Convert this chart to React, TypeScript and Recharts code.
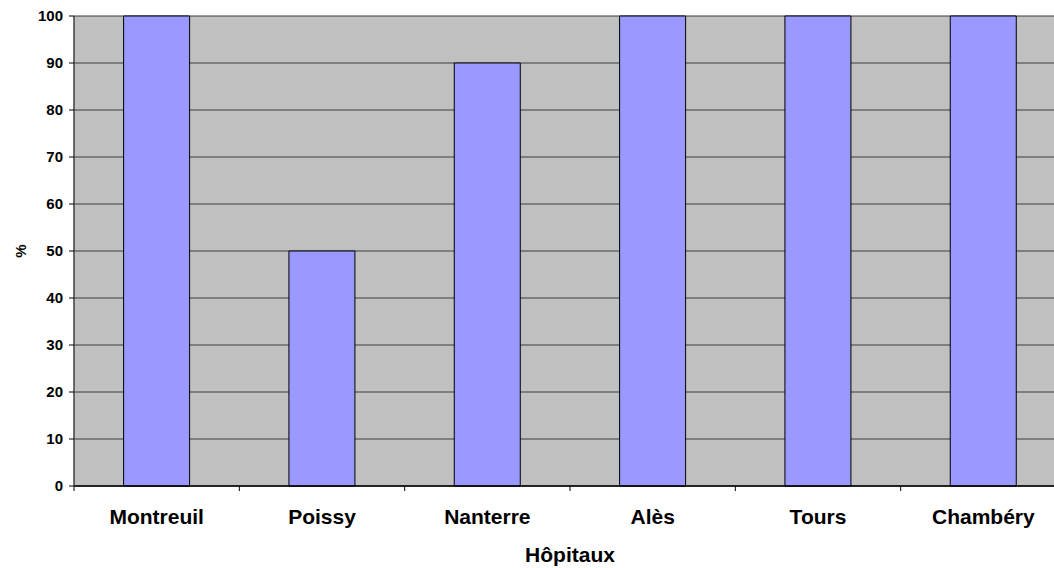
import { BarChart, Bar, XAxis, YAxis, CartesianGrid } from "recharts";

const hospitals = ["Montreuil", "Poissy", "Nanterre", "Alès", "Tours", "Chambéry"];
const percents = [100, 50, 90, 100, 100, 100];
const yTicks = [0, 10, 20, 30, 40, 50, 60, 70, 80, 90, 100];
const bandTicks = [0, 1, 2, 3, 4, 5, 6];

// "slot" is the category's centre on a 0..6 scale, used only for the boundary tick axis
const data = hospitals.map((name, i) => ({ name, value: percents[i], slot: i + 0.5 }));

const FONT = "Arial, 'Liberation Sans', sans-serif";

export default function App() {
  return (
    <div style={{ position: "absolute", left: 0, top: 0, width: 1054, height: 568, overflow: "hidden", background: "#fff" }}>
      <BarChart
        width={1070}
        height={568}
        data={data}
        margin={{ top: 16, right: 4, bottom: 0, left: 0 }}
        barCategoryGap="30%"
      >
        <CartesianGrid vertical={false} fill="#C0C0C0" stroke="#3c3c3c" strokeWidth={1} fillOpacity={1} />
        <XAxis
          xAxisId="band"
          type="number"
          dataKey="slot"
          domain={[0, 6]}
          ticks={bandTicks}
          allowDataOverflow
          height={6}
          tickFormatter={() => ""}
          tickSize={5}
          stroke="#000"
          axisLine={{ stroke: "#000", strokeWidth: 1.5 }}
          tickLine={{ stroke: "#000" }}
        />
        <XAxis
          xAxisId="cat"
          dataKey="name"
          height={76}
          axisLine={false}
          tickLine={false}
          interval={0}
          tick={{ fontSize: 21, fontWeight: "bold", fill: "#000", fontFamily: FONT, dy: 9 }}
          label={{ value: "Hôpitaux", position: "insideBottom", offset: 6, style: { fontSize: 21, fontWeight: "bold", fill: "#000", fontFamily: FONT } }}
        />
        <YAxis
          domain={[0, 100]}
          ticks={yTicks}
          width={74}
          interval={0}
          tickSize={5}
          tickMargin={6}
          axisLine={{ stroke: "#404040", strokeWidth: 1.5 }}
          tickLine={{ stroke: "#000" }}
          tick={{ fontSize: 15, fontWeight: "bold", fill: "#000", fontFamily: FONT }}
          label={{ value: "%", angle: -90, position: "insideLeft", offset: 21, style: { fontSize: 15, fontWeight: "bold", fill: "#000", fontFamily: FONT, textAnchor: "middle" } }}
        />
        <Bar xAxisId="cat" dataKey="value" fill="#9999FF" stroke="#000" strokeWidth={1} isAnimationActive={false} />
      </BarChart>
    </div>
  );
}
